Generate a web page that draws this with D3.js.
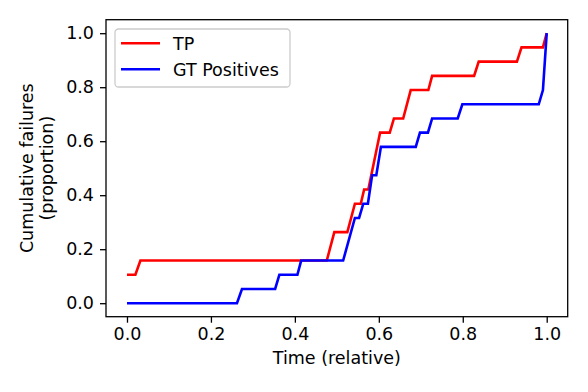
<!DOCTYPE html>
<html>
<head>
<meta charset="utf-8">
<script src="https://cdn.jsdelivr.net/npm/d3@7"></script>
<style>
  body { margin: 0; background: #fff; }
  text { font-family: "DejaVu Sans", sans-serif; fill: #000; }
</style>
</head>
<body>
<svg id="chart" width="588" height="392"></svg>
<script>
// cumulative failures, counts out of N
var N = 19;
var tpTime  = [0, 0.020, 0.032, 0.476, 0.494, 0.525, 0.543, 0.557, 0.565, 0.575, 0.603, 0.626, 0.636, 0.658, 0.676, 0.718, 0.727, 0.827, 0.838, 0.929, 0.940, 0.991, 1.0];
var tpCount = [2, 2, 3, 3, 5, 5, 7, 7, 8, 8, 12, 12, 13, 13, 15, 15, 16, 16, 17, 17, 18, 18, 19];
var gtTime  = [0, 0.262, 0.274, 0.353, 0.363, 0.406, 0.415, 0.515, 0.543, 0.553, 0.563, 0.574, 0.584, 0.594, 0.605, 0.688, 0.698, 0.717, 0.727, 0.788, 0.799, 0.981, 0.991, 1.0];
var gtCount = [0, 0, 1, 1, 2, 2, 3, 3, 6, 6, 7, 7, 9, 9, 11, 11, 12, 12, 13, 13, 14, 14, 15, 19];
var xTicks = [0, 0.2, 0.4, 0.6, 0.8, 1.0];
var yTicks = [0, 0.2, 0.4, 0.6, 0.8, 1.0];

var svg = d3.select("#chart");
var mLeft = 106, mRight = 567.7, mTop = 19.7, mBottom = 316.7;
var fs = 17.5;

var x = d3.scaleLinear().domain([-0.05, 1.05]).range([mLeft, mRight]);
var y = d3.scaleLinear().domain([-0.05, 1.05]).range([mBottom, mTop]);

var line = d3.line()
	.x(function(d){ return x(d[0]); })
	.y(function(d){ return y(d[1]); });

var tpData = tpTime.map(function(t, i){ return [t, tpCount[i] / N]; });
var gtData = gtTime.map(function(t, i){ return [t, gtCount[i] / N]; });

svg.append("path")
	.datum(tpData)
	.attr("d", line)
	.attr("fill", "none")
	.attr("stroke", "#ff0000")
	.attr("stroke-width", 2.6);

svg.append("path")
	.datum(gtData)
	.attr("d", line)
	.attr("fill", "none")
	.attr("stroke", "#0000ff")
	.attr("stroke-width", 2.6);

// axes
var xAxis = svg.append("g")
	.attr("transform", "translate(0," + mBottom + ")")
	.call(d3.axisBottom(x).tickValues(xTicks).tickFormat(d3.format(".1f")).tickSize(6).tickPadding(5));
var yAxis = svg.append("g")
	.attr("transform", "translate(" + mLeft + ",0)")
	.call(d3.axisLeft(y).tickValues(yTicks).tickFormat(d3.format(".1f")).tickSize(6).tickPadding(6));

[xAxis, yAxis].forEach(function(a){
	a.select(".domain").remove();
	a.selectAll(".tick line").attr("stroke", "#000").attr("stroke-width", 1.3);
	a.selectAll(".tick text").style("font-size", fs + "px").style("font-family", "DejaVu Sans");
});

// frame
svg.append("rect")
	.attr("x", mLeft).attr("y", mTop)
	.attr("width", mRight - mLeft).attr("height", mBottom - mTop)
	.attr("fill", "none")
	.attr("stroke", "#000")
	.attr("stroke-width", 1.3);

// labels
svg.append("text")
	.attr("x", (mLeft + mRight) / 2)
	.attr("y", 364)
	.attr("text-anchor", "middle")
	.style("font-size", fs + "px")
	.text("Time (relative)");

var ylab = svg.append("text")
	.attr("transform", "translate(0," + ((mTop + mBottom) / 2) + ") rotate(-90)")
	.attr("text-anchor", "middle")
	.style("font-size", fs + "px");
ylab.append("tspan").attr("x", 0).attr("y", 33).text("Cumulative failures");
ylab.append("tspan").attr("x", 0).attr("y", 53).text("(proportion)");

// legend
var legend = svg.append("g");
legend.append("rect")
	.attr("x", 115).attr("y", 29)
	.attr("width", 175).attr("height", 58)
	.attr("rx", 3.5)
	.attr("fill", "#fff")
	.attr("fill-opacity", 0.8)
	.attr("stroke", "#cccccc")
	.attr("stroke-width", 1.3);

var items = [["TP", "#ff0000"], ["GT Positives", "#0000ff"]];
items.forEach(function(it, i){
	var yy = 43.3 + i * 26;
	legend.append("line")
		.attr("x1", 121).attr("x2", 160)
		.attr("y1", yy).attr("y2", yy)
		.attr("stroke", it[1])
		.attr("stroke-width", 2.6);
	legend.append("text")
		.attr("x", 173)
		.attr("y", yy + 6.3)
		.style("font-size", fs + "px")
		.text(it[0]);
});
</script>
</body>
</html>
